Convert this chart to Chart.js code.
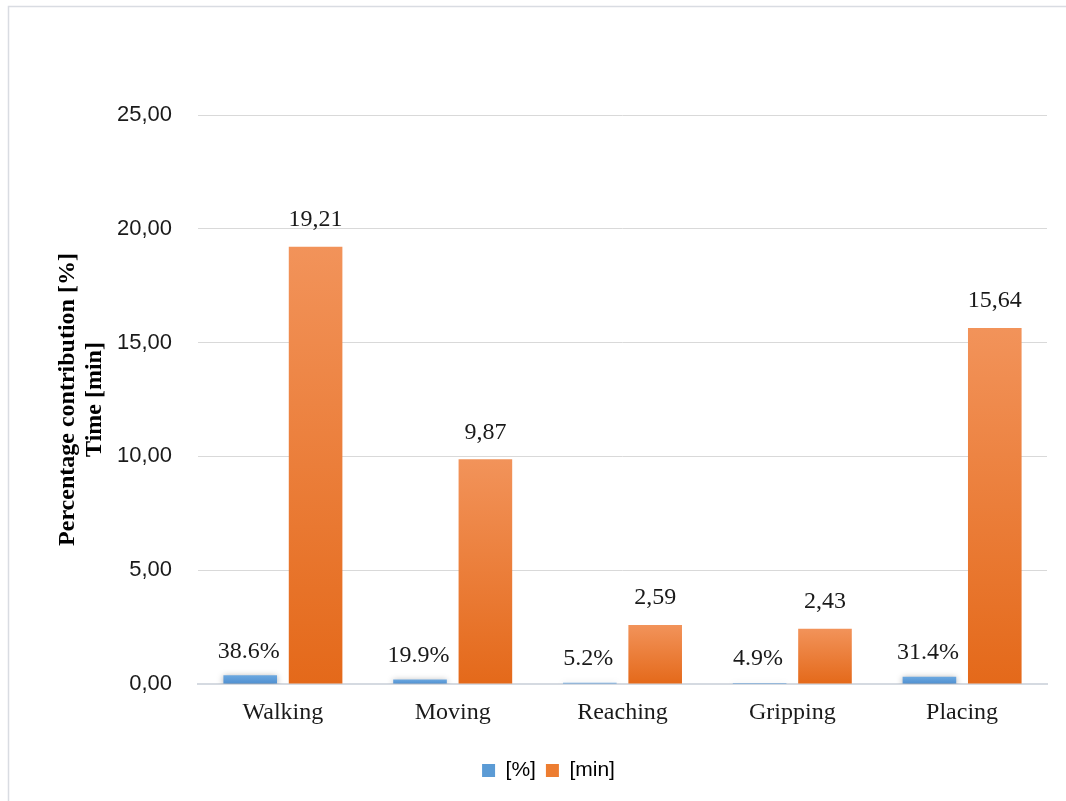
<!DOCTYPE html>
<html>
<head>
<meta charset="utf-8">
<script src="https://cdn.jsdelivr.net/npm/chart.js@4/dist/chart.umd.min.js"></script>
<style>
  html, body { margin: 0; padding: 0; background: #fff; }
  #wrap { width: 1066px; height: 801px; position: relative; }
</style>
</head>
<body>
<div id="wrap"><canvas id="c" width="1066" height="801"></canvas></div>
<script>
const categories = ['Walking', 'Moving', 'Reaching', 'Gripping', 'Placing'];
const percentShare = [0.386, 0.199, 0.052, 0.049, 0.314];
const timeMinutes = [19.21, 9.87, 2.59, 2.43, 15.64];
const seriesNames = ['[%]', '[min]'];
const yTicks = [0, 5, 10, 15, 20, 25];
const yTitle = ['Percentage contribution [%]', 'Time [min]'];

function barGradient(ctx, top, bottom) {
  return function (context) {
    const chart = context.chart;
    const area = chart.chartArea;
    if (!area || context.parsed === undefined) return bottom;
    const ys = chart.scales.y;
    const yTop = ys.getPixelForValue(context.parsed.y);
    const yBot = ys.getPixelForValue(0);
    if (!isFinite(yTop) || !isFinite(yBot) || Math.abs(yBot - yTop) < 1) return bottom;
    const g = chart.ctx.createLinearGradient(0, yTop, 0, yBot);
    g.addColorStop(0, top);
    g.addColorStop(1, bottom);
    return g;
  };
}

const framePlugin = {
  id: 'frame',
  beforeDraw(chart) {
    const c = chart.ctx;
    c.save();
    c.fillStyle = '#ffffff';
    c.fillRect(0, 0, chart.width, chart.height);
    c.strokeStyle = '#D9DCE2';
    c.lineWidth = 1.5;
    c.strokeRect(8.5, 6.5, chart.width + 20, chart.height + 20);
    c.restore();
  }
};

const shadowPlugin = {
  id: 'barShadow',
  beforeDatasetDraw(chart, args) {
    if (args.index === 0) {
      const c = chart.ctx;
      c.save();
      c.shadowColor = 'rgba(0,0,0,0.35)';
      c.shadowBlur = 6;
      c.shadowOffsetX = 0;
      c.shadowOffsetY = 1;
    }
  },
  afterDatasetDraw(chart, args) {
    if (args.index === 0) chart.ctx.restore();
  }
};

const labelPlugin = {
  id: 'valueLabels',
  afterDatasetsDraw(chart) {
    const c = chart.ctx;
    c.save();
    c.font = '24px "Liberation Serif", "Times New Roman", serif';
    c.fillStyle = '#1a1a1a';
    c.textAlign = 'center';
    c.textBaseline = 'middle';
    chart.data.datasets.forEach((ds, di) => {
      const meta = chart.getDatasetMeta(di);
      meta.data.forEach((el, i) => {
        const v = ds.data[i];
        let txt, off;
        if (di === 0) {
          txt = (v * 100).toFixed(1) + '%';
          off = 24;
        } else {
          txt = v.toFixed(2).replace('.', ',');
          off = 27;
        }
        c.fillText(txt, el.x - (di === 0 ? 1.5 : 0), el.y - off);
      });
    });
    c.restore();
  }
};

const ctx = document.getElementById('c').getContext('2d');
new Chart(ctx, {
  type: 'bar',
  data: {
    labels: categories,
    datasets: [
      {
        label: seriesNames[0],
        data: percentShare,
        backgroundColor: barGradient(ctx, '#6CA8E0', '#4F8FD0'),
        borderWidth: 0,
        categoryPercentage: 0.77,
        barPercentage: 0.82
      },
      {
        label: seriesNames[1],
        data: timeMinutes,
        backgroundColor: barGradient(ctx, '#F2935A', '#E4691A'),
        borderWidth: 0,
        categoryPercentage: 0.77,
        barPercentage: 0.82
      }
    ]
  },
  plugins: [framePlugin, shadowPlugin, labelPlugin],
  options: {
    responsive: false,
    animation: false,
    devicePixelRatio: 1,
    layout: { padding: { left: 50, right: 19, top: 115, bottom: 10 } },
    plugins: {
      tooltip: { enabled: false },
      legend: {
        position: 'bottom',
        labels: {
          boxWidth: 13,
          boxHeight: 13,
          padding: 10,
          color: '#1a1a1a',
          font: { family: '"Liberation Sans", Arial, sans-serif', size: 21 },
          generateLabels(chart) {
            const cols = ['#5B9BD5', '#ED7D31'];
            return chart.data.datasets.map((ds, i) => ({
              text: ds.label,
              fillStyle: cols[i],
              strokeStyle: cols[i],
              lineWidth: 0,
              datasetIndex: i,
              hidden: false
            }));
          }
        }
      }
    },
    scales: {
      x: {
        grid: { display: false },
        border: { display: true, color: '#D5DAE1', width: 2 },
        ticks: {
          color: '#1a1a1a',
          padding: 6,
          font: { family: '"Liberation Serif", "Times New Roman", serif', size: 24 }
        },
        afterFit(s) { s.height = 66; }
      },
      y: {
        min: 0,
        max: 25,
        afterBuildTicks(s) { s.ticks = yTicks.map(v => ({ value: v })); },
        grid: { color: '#D9D9D9', lineWidth: 1, drawTicks: false },
        border: { display: false },
        ticks: {
          color: '#1a1a1a',
          padding: 26,
          font: { family: '"Liberation Sans", Arial, sans-serif', size: 22 },
          callback: v => Number(v).toFixed(2).replace('.', ',')
        },
        title: {
          display: true,
          text: yTitle,
          color: '#000',
          padding: { top: 4, bottom: 4 },
          font: { family: '"Liberation Serif", "Times New Roman", serif', size: 24, weight: 'bold', lineHeight: 1.12 }
        },
        afterFit(s) { s.width = 148; }
      }
    }
  }
});
</script>
</body>
</html>
